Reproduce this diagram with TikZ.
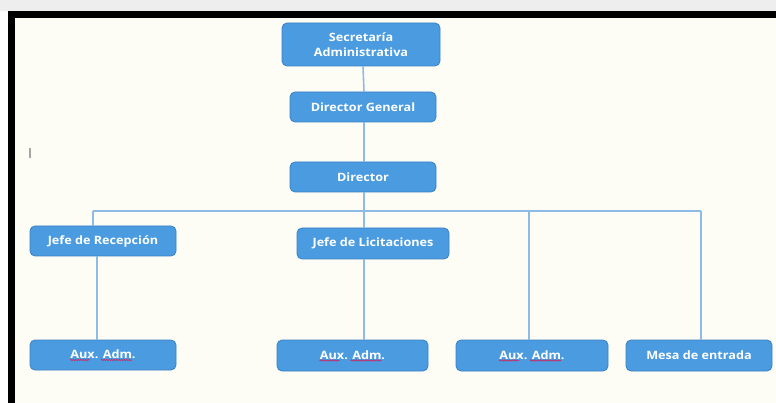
\documentclass[tikz,border=0pt]{standalone}
\usepackage{fontspec}
\setmainfont[FakeStretch=1.1]{Open Sans}
\usetikzlibrary{decorations.pathmorphing}
\definecolor{boxfill}{HTML}{4A9BE0}
\definecolor{boxborder}{HTML}{3A80C4}
\definecolor{linkblue}{HTML}{8DBBE6}
\definecolor{pagebg}{HTML}{FDFDF6}
\definecolor{topband}{HTML}{EEEEEE}
\definecolor{spellred}{HTML}{C2306A}
\tikzset{
  orgbox/.style={draw=boxborder, line width=0.8pt, fill=boxfill, rounded corners=5pt,
    text=white, font=\fontsize{11.5}{15}\selectfont\bfseries, align=center,
    minimum width=146pt, minimum height=30pt, inner sep=0pt},
  link/.style={draw=linkblue, line width=1.6pt},
  spell/.style={draw=spellred, line width=0.7pt, decorate,
    decoration={snake, amplitude=0.6pt, segment length=2.5pt}}
}
\begin{document}
\begin{tikzpicture}[x=1pt,y=-1pt]
\useasboundingbox (0,0) rectangle (776,403);
% background
\fill[white] (0,0) rectangle (776,403);
\fill[topband] (0,0) rectangle (776,11);
\fill[black] (8,11) rectangle (776,403);
\fill[pagebg] (15,18) rectangle (776,403);
\draw[gray!70, line width=1.4pt] (30,148) -- (30,158);
% boxes
\node[orgbox, minimum width=158pt, minimum height=43pt] (sec) at (361,44.5) {Secretaría\\Administrativa};
\node[orgbox] (dg) at (363,107) {Director General};
\node[orgbox] (dir) at (363,177) {Director};
\node[orgbox] (jr) at (103,241) {\raisebox{2pt}{Jefe de Recepción}};
\node[orgbox, minimum width=152pt, minimum height=31pt] (jl) at (373,243.5) {\raisebox{1pt}{Jefe de Licitaciones}};
\node[orgbox] (a1) at (103,355) {\raisebox{1.5pt}{Aux. Adm.}};
\node[orgbox, minimum width=151pt, minimum height=31pt] (a2) at (352.5,355.5) {\raisebox{1.5pt}{Aux. Adm.}};
\node[orgbox, minimum width=152pt, minimum height=31pt] (a3) at (532,355.5) {\raisebox{1.5pt}{Aux. Adm.}};
\node[orgbox, minimum height=31pt] (me) at (699,355.5) {Mesa de entrada};
% connectors
\coordinate (busL) at (93,211);
\coordinate (busM) at (529,211);
\coordinate (busR) at (701,211);
\path[link] ([xshift=2pt]sec.south) -- ([xshift=3pt]sec.south |- dg.north);
\path[link] ([xshift=1pt]dg.south) -- ([xshift=1pt]dg.south |- dir.north);
\path[link] ([xshift=1pt]dir.south) -- ([xshift=1pt]dir.south |- jl.north);
\path[link] (busL) -- (busR);
\path[link] (busL) -- (busL |- jr.north);
\path[link] (busM) -- (busM |- a3.north);
\path[link] (busR) -- (busR |- me.north);
\path[link] ([xshift=-6pt]jr.south) -- ([xshift=-6pt]jr.south |- a1.north);
\path[link] ([xshift=-9pt]jl.south) -- ([xshift=-9pt]jl.south |- a2.north);
% spell-check underlines
\foreach \n in {a1,a2,a3}{
  \path[spell] ([xshift=-33pt,yshift=-5pt]\n.center) -- ([xshift=-13pt,yshift=-5pt]\n.center);
  \path[spell] ([xshift=-2pt,yshift=-5pt]\n.center) -- ([xshift=29pt,yshift=-5pt]\n.center);
}
\end{tikzpicture}
\end{document}
